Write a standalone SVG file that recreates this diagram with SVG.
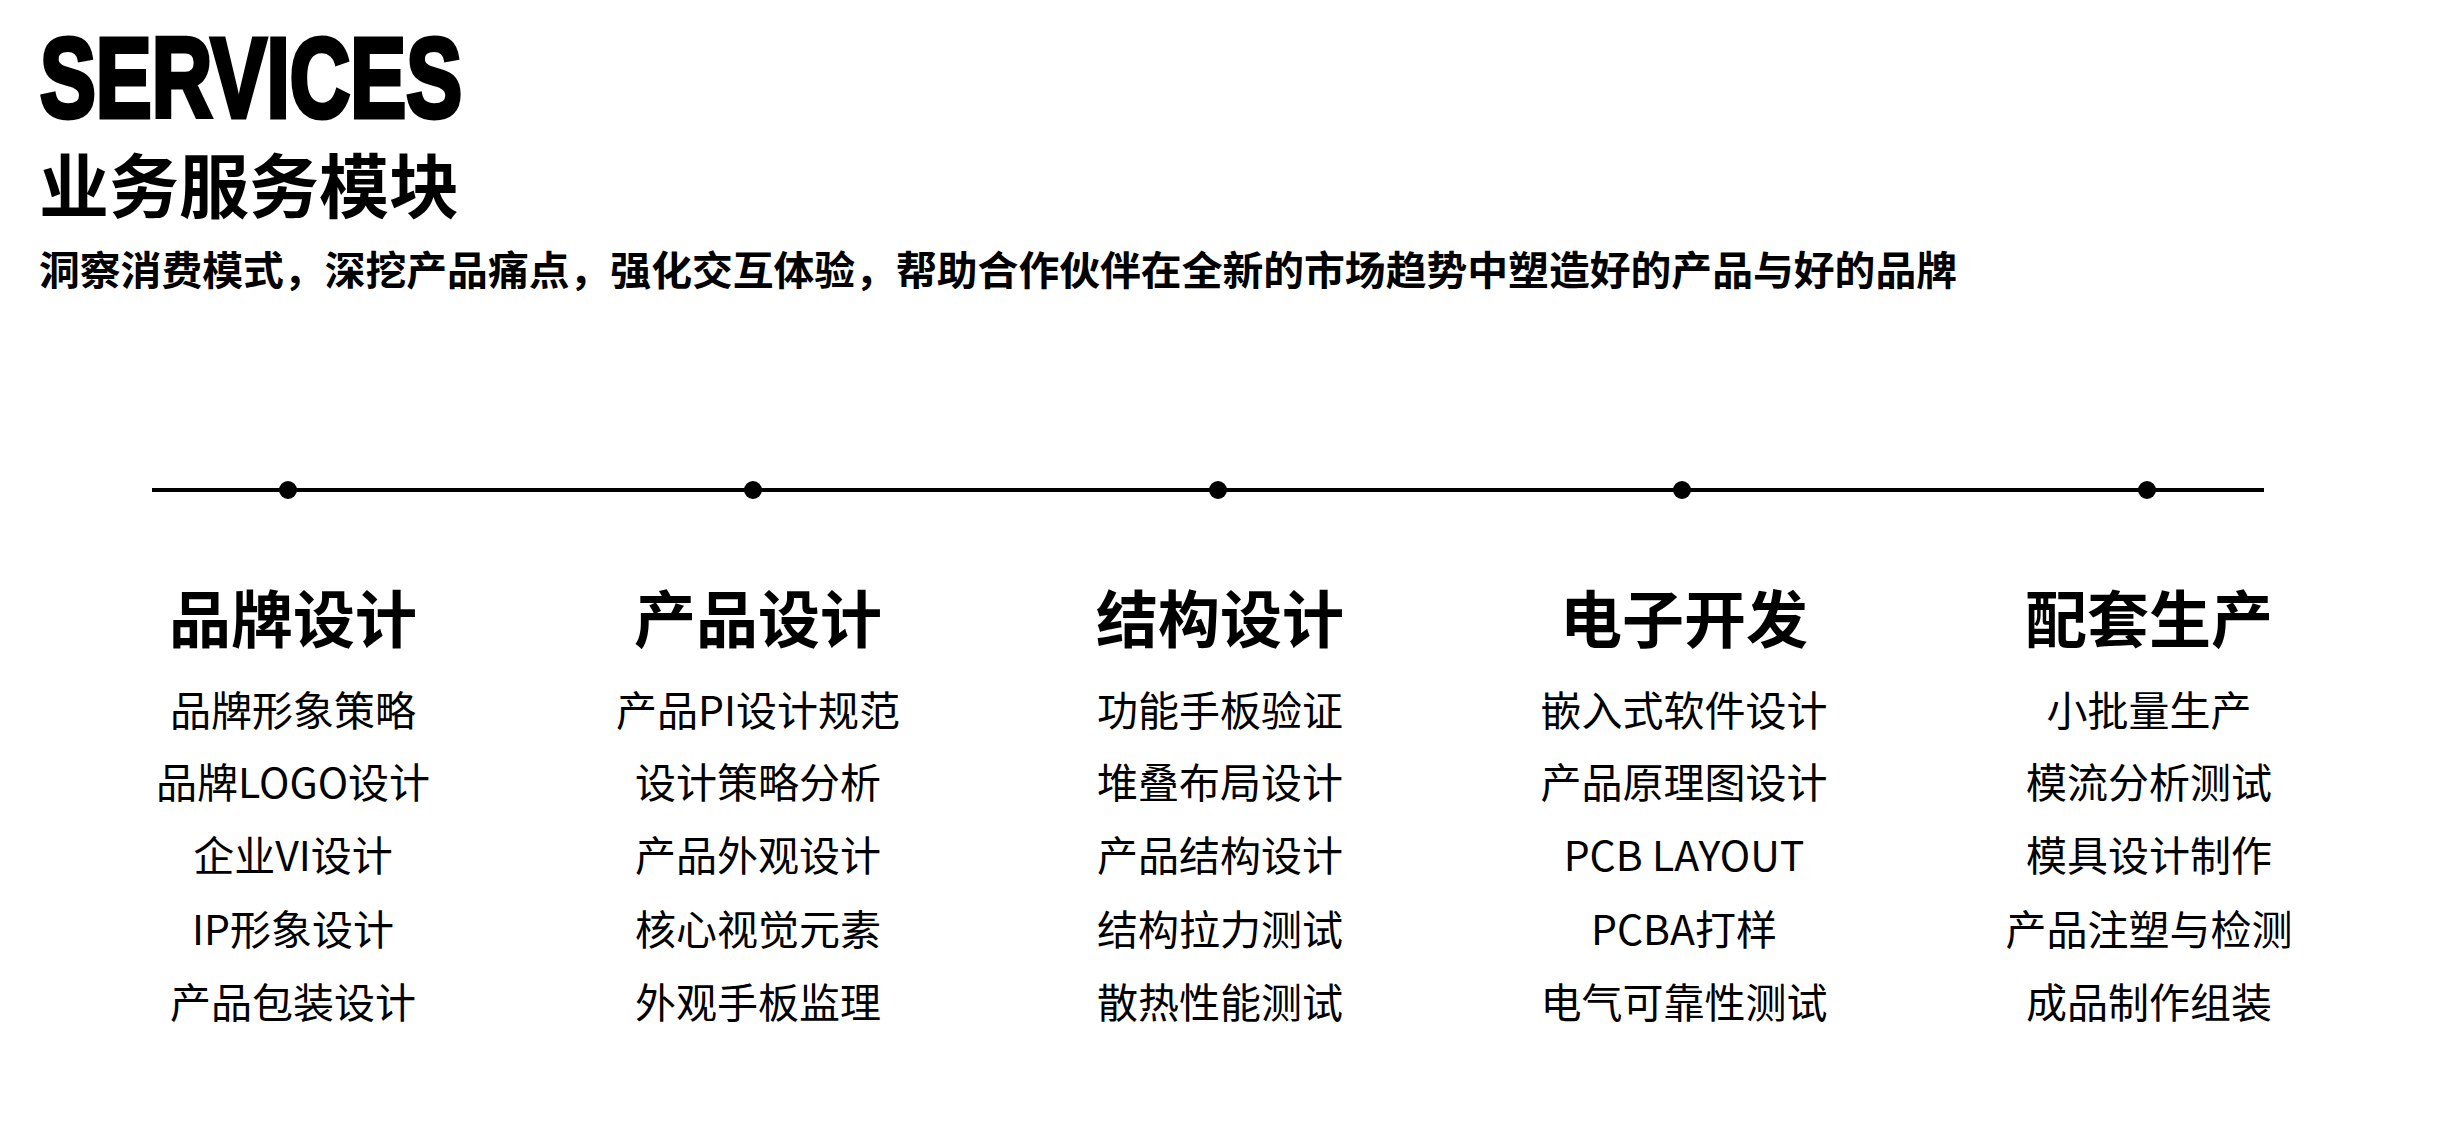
<svg xmlns="http://www.w3.org/2000/svg" width="2440" height="1132" viewBox="0 0 2440 1132">
<style>
.t{font-family:"Noto Sans CJK SC","Liberation Sans",sans-serif;fill:#000}
.h{font-size:62px;font-weight:700;text-anchor:middle}
.i{font-size:41px;text-anchor:middle}
</style>
<rect width="2440" height="1132" fill="#fff"/>
<g id="header">
<text x="40" y="117" class="t" style="font-family:'Liberation Sans',sans-serif;font-weight:700;font-size:114px;stroke:#000;stroke-width:5" textLength="422" lengthAdjust="spacingAndGlyphs">SERVICES</text>
<text x="39" y="213" class="t" style="font-size:70px;font-weight:700">业务服务模块</text>
<text x="39" y="285" class="t" style="font-size:40px;font-weight:700" textLength="1918" lengthAdjust="spacingAndGlyphs">洞察消费模式，深挖产品痛点，强化交互体验，帮助合作伙伴在全新的市场趋势中塑造好的产品与好的品牌</text>
</g>
<g id="connectors">
<line x1="152" y1="490" x2="2264" y2="490" stroke="#000" stroke-width="4"/>
<circle cx="288" cy="490" r="9"/><circle cx="753" cy="490" r="9"/><circle cx="1218" cy="490" r="9"/><circle cx="1682" cy="490" r="9"/><circle cx="2147" cy="490" r="9"/>
</g>
<g id="brand">
<text x="293" y="643" class="t h">品牌设计</text>
<text x="293" y="726" class="t i">品牌形象策略</text><text x="293" y="798" class="t i">品牌LOGO设计</text><text x="293" y="871" class="t i">企业VI设计</text><text x="293" y="945" class="t i">IP形象设计</text><text x="293" y="1018" class="t i">产品包装设计</text>
</g>
<g id="product">
<text x="758" y="643" class="t h">产品设计</text>
<text x="758" y="726" class="t i">产品PI设计规范</text><text x="758" y="798" class="t i">设计策略分析</text><text x="758" y="871" class="t i">产品外观设计</text><text x="758" y="945" class="t i">核心视觉元素</text><text x="758" y="1018" class="t i">外观手板监理</text>
</g>
<g id="structure">
<text x="1220" y="643" class="t h">结构设计</text>
<text x="1220" y="726" class="t i">功能手板验证</text><text x="1220" y="798" class="t i">堆叠布局设计</text><text x="1220" y="871" class="t i">产品结构设计</text><text x="1220" y="945" class="t i">结构拉力测试</text><text x="1220" y="1018" class="t i">散热性能测试</text>
</g>
<g id="electronics">
<text x="1684" y="643" class="t h">电子开发</text>
<text x="1684" y="726" class="t i">嵌入式软件设计</text><text x="1684" y="798" class="t i">产品原理图设计</text><text x="1684" y="871" class="t i">PCB LAYOUT</text><text x="1684" y="945" class="t i">PCBA打样</text><text x="1684" y="1018" class="t i">电气可靠性测试</text>
</g>
<g id="production">
<text x="2149" y="643" class="t h">配套生产</text>
<text x="2149" y="726" class="t i">小批量生产</text><text x="2149" y="798" class="t i">模流分析测试</text><text x="2149" y="871" class="t i">模具设计制作</text><text x="2149" y="945" class="t i">产品注塑与检测</text><text x="2149" y="1018" class="t i">成品制作组装</text>
</g>
</svg>
